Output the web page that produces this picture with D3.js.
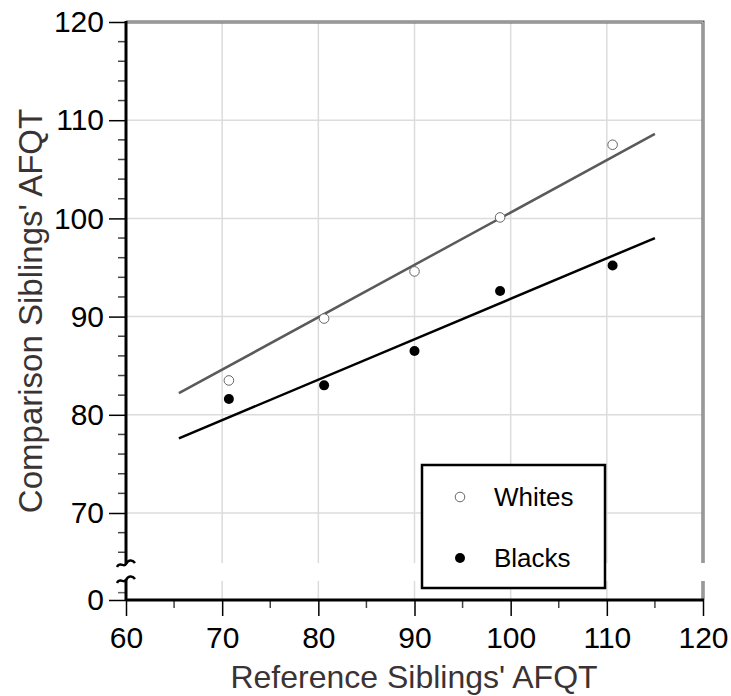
<!DOCTYPE html>
<html>
<head>
<meta charset="utf-8">
<script src="https://cdn.jsdelivr.net/npm/d3@7"></script>
<style>
  body { margin: 0; background: #fff; }
  svg { display: block; font-family: "Liberation Sans", Arial, sans-serif; }
</style>
</head>
<body>
<svg id="chart" width="731" height="696"></svg>
<script>
// data
const xTicks = [60, 70, 80, 90, 100, 110, 120];
const xMinor = [65, 75, 85, 95, 105, 115];
const yTicks = [70, 80, 90, 100, 110, 120];
const yMinor = [66, 68, 72, 74, 76, 78, 82, 84, 86, 88, 92, 94, 96, 98, 102, 104, 106, 108, 112, 114, 116, 118];
const gridX = [70, 80, 90, 100, 110];
const gridY = [70, 80, 90, 100, 110];

const refAFQT = [70.7, 80.6, 90.0, 98.9, 110.6];
const whitesAFQT = [83.5, 89.8, 94.6, 100.1, 107.5];
const blacksAFQT = [81.6, 83.0, 86.5, 92.6, 95.2];

const fitX = [65.5, 115];
const whitesFit = [82.2, 108.6];
const blacksFit = [77.6, 98.0];

const svg = d3.select("#chart");
const titleColor = "#3b3333";
const tickFont = 30;

const x = d3.scaleLinear().domain([60, 120]).range([126, 703]);
const y = d3.scaleLinear().domain([70, 120]).range([513, 22]);   // upper part
const yLow = d3.scaleLinear().domain([0, 1]).range([600, 590.2]); // below the break

const plotTop = y(120), plotBottom = yLow(0), plotLeft = x(60), plotRight = x(120);
const breakTop = 563, breakBot = 581;

// grid
const grid = svg.append("g").attr("stroke", "#dcdcdc").attr("stroke-width", 1.5);
gridX.forEach(v => {
    grid.append("line").attr("x1", x(v)).attr("x2", x(v)).attr("y1", plotTop).attr("y2", breakTop);
    grid.append("line").attr("x1", x(v)).attr("x2", x(v)).attr("y1", breakBot).attr("y2", plotBottom);
});
gridY.forEach(v => {
    grid.append("line").attr("x1", plotLeft).attr("x2", plotRight).attr("y1", y(v)).attr("y2", y(v));
});

// frame top and right (gray double line)
function frame(path) {
    svg.append("path").attr("d", path).attr("fill", "none").attr("stroke", "#555").attr("stroke-width", 3);
    svg.append("path").attr("d", path).attr("fill", "none").attr("stroke", "#ddd").attr("stroke-width", 1);
}
frame(`M${plotLeft},${plotTop}H${plotRight}V${breakTop}`);
frame(`M${plotRight},${breakBot}V${plotBottom}`);

function styleAxis(g) {
    g.select(".domain").remove();
    g.selectAll(".tick line").attr("stroke", "#000").attr("stroke-width", 1.5);
    g.selectAll(".tick text").attr("font-size", tickFont).attr("fill", "#000")
        .attr("font-family", "Liberation Sans, Arial");
}

// x axis
svg.append("g").attr("transform", `translate(0,${plotBottom})`)
    .call(d3.axisBottom(x).tickValues(xTicks).tickSize(16).tickPadding(11).tickFormat(d3.format("d")))
    .call(styleAxis);
xMinor.forEach(v => {
    svg.append("line").attr("x1", x(v)).attr("x2", x(v)).attr("y1", plotBottom).attr("y2", plotBottom + 8)
        .attr("stroke", "#444").attr("stroke-width", 1.5);
});

// y axis, upper part
svg.append("g").attr("transform", `translate(${plotLeft},0)`)
    .call(d3.axisLeft(y).tickValues(yTicks).tickSize(17).tickPadding(5))
    .call(styleAxis);
yMinor.forEach(v => {
    svg.append("line").attr("x1", plotLeft - 8).attr("x2", plotLeft).attr("y1", y(v)).attr("y2", y(v))
        .attr("stroke", "#444").attr("stroke-width", 1.5);
});

// y axis, lower part
svg.append("g").attr("transform", `translate(${plotLeft},0)`)
    .call(d3.axisLeft(yLow).tickValues([0]).tickSize(17).tickPadding(5).tickFormat(d3.format("d")))
    .call(styleAxis);
svg.append("line").attr("x1", plotLeft - 8).attr("x2", plotLeft).attr("y1", yLow(0.75)).attr("y2", yLow(0.75))
    .attr("stroke", "#666").attr("stroke-width", 1.5);

// axis lines
svg.append("line").attr("x1", plotLeft).attr("x2", plotRight + 1).attr("y1", plotBottom).attr("y2", plotBottom)
    .attr("stroke", "#000").attr("stroke-width", 3);
svg.append("line").attr("x1", plotLeft).attr("x2", plotLeft).attr("y1", plotTop - 1).attr("y2", breakTop + 1)
    .attr("stroke", "#000").attr("stroke-width", 3);
svg.append("line").attr("x1", plotLeft).attr("x2", plotLeft).attr("y1", breakBot - 2).attr("y2", plotBottom)
    .attr("stroke", "#000").attr("stroke-width", 3);

// break marks
function squiggle(yc) {
    const l = plotLeft;
    svg.append("path")
        .attr("d", `M${l - 9},${yc + 3} C${l - 6},${yc - 3} ${l - 2},${yc + 4} ${l},${yc} S${l + 6},${yc - 5} ${l + 9},${yc - 1}`)
        .attr("fill", "none").attr("stroke", "#000").attr("stroke-width", 2.5);
}
squiggle(breakTop + 1);
squiggle(breakBot - 1);

// fitted lines
const line = d3.line().x(d => x(d[0])).y(d => y(d[1]));
svg.append("path").datum(d3.zip(fitX, whitesFit)).attr("d", line)
    .attr("fill", "none").attr("stroke", "#5a5a5a").attr("stroke-width", 2.5);
svg.append("path").datum(d3.zip(fitX, blacksFit)).attr("d", line)
    .attr("fill", "none").attr("stroke", "#000").attr("stroke-width", 2.5);

// points
svg.append("g").selectAll("circle").data(d3.zip(refAFQT, whitesAFQT)).join("circle")
    .attr("cx", d => x(d[0])).attr("cy", d => y(d[1])).attr("r", 4.8)
    .attr("fill", "#fff").attr("stroke", "#666").attr("stroke-width", 1);
svg.append("g").selectAll("circle").data(d3.zip(refAFQT, blacksAFQT)).join("circle")
    .attr("cx", d => x(d[0])).attr("cy", d => y(d[1])).attr("r", 5)
    .attr("fill", "#000");

// legend
const lg = svg.append("g");
lg.append("rect").attr("x", 422).attr("y", 465).attr("width", 183).attr("height", 123)
    .attr("fill", "#fff").attr("stroke", "#000").attr("stroke-width", 2.5);
lg.append("circle").attr("cx", 460).attr("cy", 497).attr("r", 4.8)
    .attr("fill", "#fff").attr("stroke", "#666").attr("stroke-width", 1);
lg.append("circle").attr("cx", 460).attr("cy", 558).attr("r", 5).attr("fill", "#000");
lg.append("text").attr("x", 494).attr("y", 506).attr("font-size", 26).text("Whites");
lg.append("text").attr("x", 494).attr("y", 567).attr("font-size", 26).text("Blacks");

// titles
svg.append("text").attr("x", 414).attr("y", 688).attr("text-anchor", "middle")
    .attr("font-size", 32).attr("fill", titleColor).text("Reference Siblings' AFQT");
svg.append("text").attr("transform", "translate(42,311) rotate(-90)").attr("text-anchor", "middle")
    .attr("font-size", 33).attr("fill", titleColor).text("Comparison Siblings' AFQT");
</script>
</body>
</html>
